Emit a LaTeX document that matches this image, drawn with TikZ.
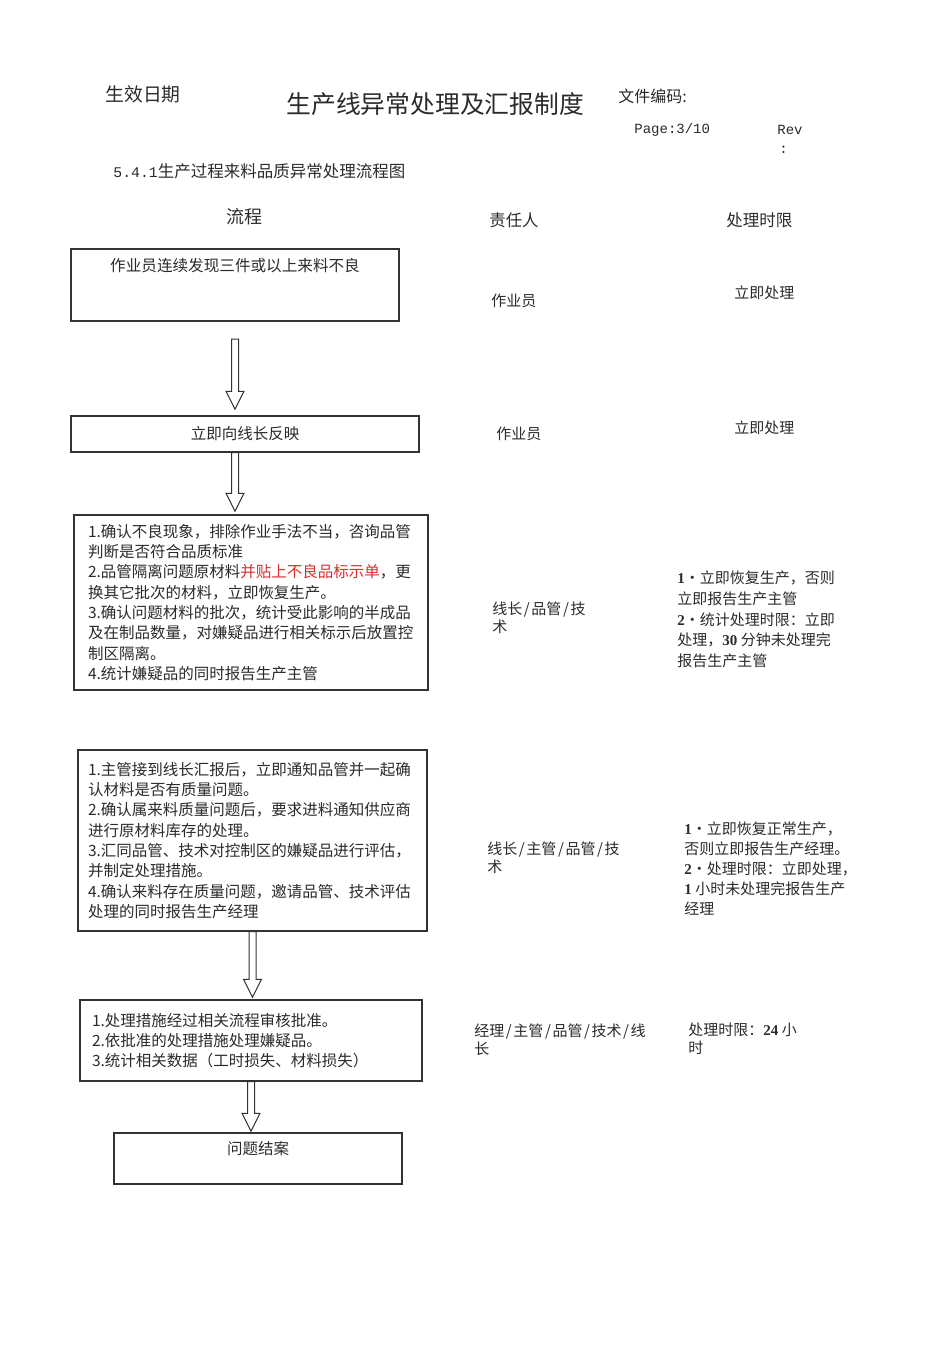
\documentclass[tikz,border=0pt]{standalone}
\usepackage{fontspec}
\setmainfont{Noto Sans CJK SC}
\newfontfamily\monof{Liberation Mono}
\newfontfamily\numf{Liberation Serif}
\usetikzlibrary{calc}
\definecolor{boxline}{HTML}{333333}
\definecolor{txt}{HTML}{2B2B2B}
\definecolor{mark}{HTML}{D9302C}
\newcommand{\slashgap}{\kern0.8pt/\kern0.8pt}
\newcommand{\bnum}[1]{{\numf\bfseries #1}}

\begin{document}
\begin{tikzpicture}[x=0.5pt, y=-0.5pt,
    flow/.style={draw=boxline, line width=0.7pt, rectangle, inner sep=0pt, text=txt,
      font=\fontsize{7.75pt}{10.15pt}\selectfont},
    steps/.style={flow, align=left},
    head/.style={anchor=west, inner sep=0pt, text=txt},
    col/.style={anchor=west, inner sep=0pt, align=left, text=txt,
      font=\fontsize{7.5pt}{9pt}\selectfont},
    limit/.style={col, font=\fontsize{7.5pt}{10.3pt}\selectfont},
    bigarrow/.style={draw=boxline, line width=0.5pt, fill=white,
      to path={let \p1=(\tikztostart), \p2=(\tikztotarget) in
        (\x1-1.75pt,\y1) -- (\x1-1.75pt,\y2+9pt) -- (\x1-4.5pt,\y2+9pt) -- (\x1,\y2)
        -- (\x1+4.5pt,\y2+9pt) -- (\x1+1.75pt,\y2+9pt) -- (\x1+1.75pt,\y1) -- cycle}}]
  \useasboundingbox (0,0) rectangle (950,1354);
  \fill[white] (0,0) rectangle (950,1354);

  % header
  \node[head, font=\fontsize{9.4pt}{11pt}\selectfont] (date) at (105,94) {生效日期};
  \node[head, font=\fontsize{12.4pt}{14pt}\selectfont] (title) at (286,104) {生产线异常处理及汇报制度};
  \node[head, font=\fontsize{8pt}{10pt}\selectfont] (code) at (618,96) {文件编码:};
  \node[head, font=\monof\fontsize{7pt}{9pt}\selectfont] (page) at (634,130) {Page:3/10};
  \node[head, font=\monof\fontsize{7pt}{9pt}\selectfont] (rev) at (777,130) {Rev};
  \node[head, font=\monof\fontsize{7pt}{9pt}\selectfont] (revc) at (779,150) {:};
  \node[head, font=\fontsize{8.25pt}{10pt}\selectfont] (sect) at (113,171)
    {{\monof\fontsize{7.4pt}{9pt}\selectfont 5.4.1}生产过程来料品质异常处理流程图};

  % column heads
  \node[inner sep=0pt, text=txt, font=\fontsize{9pt}{11pt}\selectfont] (hflow) at (244,217) {流程};
  \node[head, font=\fontsize{8.2pt}{10pt}\selectfont] (hwho) at (489,220) {责任人};
  \node[head, font=\fontsize{8.25pt}{10pt}\selectfont] (htime) at (726,220) {处理时限};

  % flow boxes
  \node[flow, line width=1pt, minimum width=164pt, minimum height=36pt,
    label={[anchor=north, inner sep=0pt, yshift=-5pt, text=txt,
      font=\fontsize{7.8pt}{10pt}\selectfont]north:作业员连续发现三件或以上来料不良}] (b1) at (235,285) {};
  \node[flow, minimum width=174pt, minimum height=18pt] (b2) at (245,434) {立即向线长反映};
  \node[steps, text width=163pt, minimum width=177pt, minimum height=87.5pt] (b3) at (251,602.5)
    {1.确认不良现象，排除作业手法不当，咨询品管\\判断是否符合品质标准\\
     2.品管隔离问题原材料{\color{mark}并贴上不良品标示单}，更\\换其它批次的材料，立即恢复生产。\\
     3.确认问题材料的批次，统计受此影响的半成品\\及在制品数量，对嫌疑品进行相关标示后放置控\\制区隔离。\\
     4.统计嫌疑品的同时报告生产主管};
  \node[steps, text width=164.5pt, minimum width=174.5pt, minimum height=90.5pt] (b4) at (252.5,840.5)
    {1.主管接到线长汇报后，立即通知品管并一起确\\认材料是否有质量问题。\\
     2.确认属来料质量问题后，要求进料通知供应商\\进行原材料库存的处理。\\
     3.汇同品管、技术对控制区的嫌疑品进行评估，\\并制定处理措施。\\
     4.确认来料存在质量问题，邀请品管、技术评估\\处理的同时报告生产经理};
  \node[steps, text width=159pt, minimum width=171pt, minimum height=40.5pt] (b5) at (251,1040.5)
    {1.处理措施经过相关流程审核批准。\\2.依批准的处理措施处理嫌疑品。\\3.统计相关数据（工时损失、材料损失）};
  \node[flow, minimum width=144pt, minimum height=25.5pt,
    label={[anchor=north, inner sep=0pt, yshift=-4.5pt, text=txt,
      font=\fontsize{7.75pt}{10pt}\selectfont]north:问题结案}] (b6) at (258,1158.5) {};

  % connectors
  \draw[bigarrow] ([yshift=-8.5pt]b1.south) to ([yshift=3pt]b2.north);
  \draw[bigarrow] ([xshift=-5pt]b2.south) to ([yshift=1.5pt]b3.north);
  \draw[bigarrow] (b4.south) to ([yshift=1pt]b5.north);
  \draw[bigarrow] (b5.south) to ([yshift=0.5pt]b6.north);

  % responsible
  \node[col] (w1) at (491,301) {作业员};
  \node[col] (w2) at (496,434) {作业员};
  \node[col] (w3) at (492,618) {线长\slashgap 品管\slashgap 技\\术};
  \node[col] (w4) at (487,858) {线长\slashgap 主管\slashgap 品管\slashgap 技\\术};
  \node[col] (w5) at (474,1040) {经理\slashgap 主管\slashgap 品管\slashgap 技术\slashgap 线\\长};

  % time limits
  \node[col] (t1) at (734,293) {立即处理};
  \node[col] (t2) at (734,428) {立即处理};
  \node[limit] (t3) at (677,619.5)
    {\bnum{1}•立即恢复生产，否则\\立即报告生产主管\\\bnum{2}•统计处理时限：立即\\处理，\bnum{30} 分钟未处理完\\报告生产主管};
  \node[col, font=\fontsize{7.5pt}{10pt}\selectfont] (t4) at (684,869)
    {\bnum{1}•立即恢复正常生产，\\否则立即报告生产经理。\\\bnum{2}•处理时限：立即处理，\\\bnum{1} 小时未处理完报告生产\\经理};
  \node[col] (t5) at (688,1039) {处理时限：\bnum{24} 小\\时};
\end{tikzpicture}
\end{document}
